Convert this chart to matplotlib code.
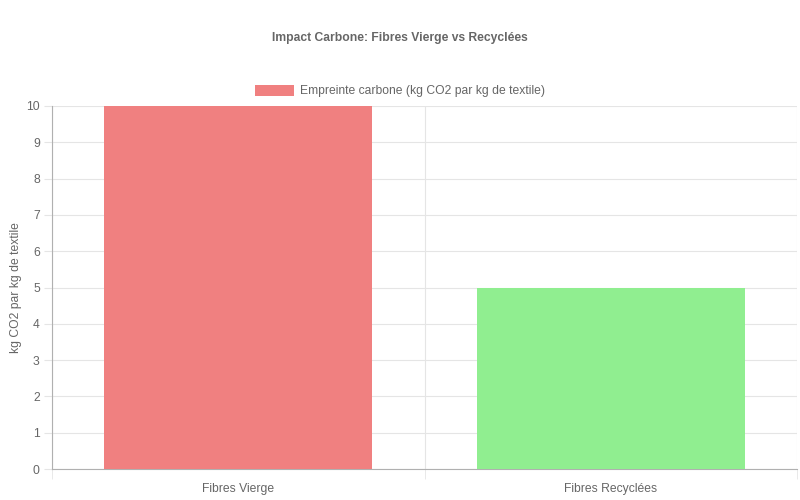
import matplotlib.pyplot as plt
import numpy as np

# Data
categories = ['Fibres Vierge', 'Fibres Recyclées']
values = [10, 5]
colors = ['#F08080', '#90EE90']
series_label = 'Empreinte carbone (kg CO2 par kg de textile)'

plt.rcParams['font.family'] = ['Liberation Sans', 'DejaVu Sans']
txt = '#666666'
fs = 8.7

fig = plt.figure(figsize=(8, 5), dpi=100)
ax = fig.add_axes([0.065, 0.062, 0.93125, 0.726])

x = np.arange(len(categories))
bars = ax.bar(x, values, width=0.72, color=colors, label=series_label, zorder=3)

ax.set_xlim(-0.5, len(categories) - 0.5)
ax.set_ylim(0, 10)
ax.set_yticks(range(0, 11))
ax.set_xticks(x)
ax.set_xticklabels(categories)
ax.set_xticks(np.arange(-0.5, len(categories), 1.0), minor=True)

ax.grid(axis='y', color='#e5e5e5', linewidth=0.8, zorder=0)
ax.grid(axis='x', which='minor', color='#e5e5e5', linewidth=0.8, zorder=0)
ax.tick_params(axis='y', length=5.8, color='#e5e5e5', labelsize=fs, labelcolor=txt, pad=3)
ax.tick_params(axis='x', which='major', length=0, labelsize=fs, labelcolor=txt, pad=10)
ax.tick_params(axis='x', which='minor', length=7.2, color='#e5e5e5')

for s in ['top', 'right']:
    ax.spines[s].set_visible(False)
for s in ['left', 'bottom']:
    ax.spines[s].set_color('#b0b0b0')
    ax.spines[s].set_linewidth(0.8)

ax.set_ylabel('kg CO2 par kg de textile', fontsize=fs, color=txt, labelpad=3)

fig.text(0.5, 0.924, 'Impact Carbone: Fibres Vierge vs Recyclées', ha='center', va='center',
         fontsize=fs, fontweight='bold', color=txt)

leg = fig.legend([bars[0]], [series_label], loc='center', bbox_to_anchor=(0.5, 0.818),
                 frameon=False, fontsize=fs, handlelength=3.3, handleheight=1.0,
                 handletextpad=0.5, labelcolor=txt)

fig.savefig('out.png', dpi=100)
